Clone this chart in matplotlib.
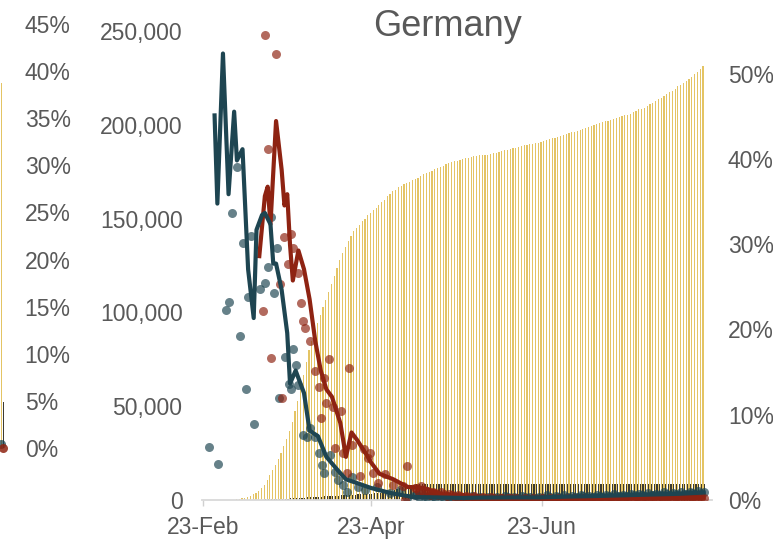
import matplotlib
matplotlib.use('Agg')
import matplotlib.pyplot as plt
import numpy as np
from matplotlib.ticker import FuncFormatter

plt.rcParams['font.family'] = ['Liberation Sans', 'DejaVu Sans']

# ---- data (days counted from 23-Feb) ----
# share of population, right axis (%), one bar per day
yellow_pct = [
    0.0, 0.0, 0.0, 0.0, 0.0, 0.0, 0.0, 0.01, 0.01, 0.02,
    0.03, 0.05, 0.08, 0.12, 0.18, 0.25, 0.35, 0.5, 0.65, 0.85,
    1.1, 1.4, 1.8, 2.3, 2.9, 3.5, 4.1, 4.8, 5.5, 6.3,
    7.2, 8.1, 9.2, 10.4, 11.6, 13.0, 14.7, 16.2, 17.6, 18.7,
    19.8, 20.8, 21.7, 22.6, 23.5, 24.4, 25.3, 26.3, 27.2, 28.1,
    29.0, 29.7, 30.4, 31.0, 31.5, 31.9, 32.3, 32.7, 33.0, 33.4,
    33.7, 34.0, 34.3, 34.6, 34.9, 35.2, 35.6, 35.9, 36.2, 36.4,
    36.7, 36.8, 37.0, 37.2, 37.3, 37.5, 37.6, 37.8, 38.0, 38.2,
    38.4, 38.5, 38.6, 38.8, 38.9, 39.0, 39.2, 39.4, 39.5, 39.6,
    39.7, 39.8, 39.9, 40.0, 40.1, 40.1, 40.2, 40.3, 40.3, 40.4,
    40.4, 40.5, 40.5, 40.6, 40.7, 40.7, 40.8, 40.9, 41.0, 41.1,
    41.2, 41.3, 41.3, 41.4, 41.5, 41.6, 41.6, 41.7, 41.8, 41.9,
    41.9, 42.0, 42.1, 42.2, 42.3, 42.4, 42.5, 42.6, 42.7, 42.8,
    42.9, 43.0, 43.1, 43.2, 43.3, 43.4, 43.5, 43.6, 43.8, 43.9,
    44.0, 44.1, 44.2, 44.3, 44.4, 44.5, 44.6, 44.7, 44.8, 44.9,
    45.0, 45.1, 45.2, 45.3, 45.5, 45.6, 45.8, 45.9, 46.0, 46.2,
    46.4, 46.6, 46.8, 47.0, 47.2, 47.4, 47.6, 47.8, 48.0, 48.2,
    48.5, 48.7, 48.9, 49.1, 49.4, 49.6, 49.9, 50.2, 50.5, 50.9,
]
dark_pct = [
    0.0, 0.0, 0.0, 0.0, 0.0, 0.0, 0.0, 0.0, 0.0, 0.0,
    0.0, 0.0, 0.0, 0.0, 0.01, 0.01, 0.02, 0.02, 0.03, 0.03,
    0.04, 0.05, 0.06, 0.07, 0.08, 0.09, 0.1, 0.12, 0.13, 0.15,
    0.17, 0.18, 0.2, 0.22, 0.24, 0.26, 0.28, 0.3, 0.32, 0.34,
    0.36, 0.38, 0.4, 0.42, 0.44, 0.46, 0.48, 0.5, 0.52, 0.54,
    0.56, 0.58, 0.6, 0.62, 0.64, 0.66, 0.68, 0.7, 0.72, 0.74,
    0.76, 0.78, 0.8, 0.85, 0.9, 0.95, 1.0, 1.1, 1.2, 1.3,
    1.4, 1.5, 1.6, 1.7, 1.75, 1.8, 1.82, 1.84, 1.86, 1.88,
    1.88, 1.89, 1.89, 1.9, 1.9, 1.9, 1.9, 1.9, 1.9, 1.9,
    1.9, 1.9, 1.9, 1.9, 1.9, 1.9, 1.9, 1.9, 1.9, 1.9,
    1.9, 1.9, 1.9, 1.9, 1.9, 1.9, 1.9, 1.9, 1.9, 1.9,
    1.9, 1.9, 1.9, 1.9, 1.9, 1.9, 1.9, 1.9, 1.9, 1.9,
    1.9, 1.9, 1.9, 1.9, 1.9, 1.9, 1.9, 1.9, 1.9, 1.9,
    1.9, 1.9, 1.9, 1.9, 1.9, 1.9, 1.9, 1.9, 1.9, 1.9,
    1.9, 1.9, 1.9, 1.9, 1.9, 1.9, 1.9, 1.9, 1.9, 1.9,
    1.9, 1.9, 1.9, 1.9, 1.9, 1.9, 1.9, 1.9, 1.9, 1.9,
    1.9, 1.9, 1.9, 1.9, 1.9, 1.9, 1.9, 1.9, 1.9, 1.9,
    1.9, 1.9, 1.9, 1.9, 1.9, 1.9, 1.9, 1.9, 1.9, 1.9,
]

# smoothed lines, left axis (thousands)
teal_line_day = [4, 5, 7, 9, 11, 12, 14, 16, 18, 19, 21, 22, 24, 25, 26, 28, 30, 31,
                 33, 36, 38, 41, 44, 48, 51, 55, 60, 67, 75, 93, 100, 110, 120, 130,
                 140, 150, 160, 170, 179]
teal_line_val = [205, 158, 238, 163, 207, 181, 187, 123, 97, 144, 152, 153, 147, 126,
                 126, 112, 89, 62, 69, 57, 37, 34, 23, 16, 11, 9, 6.4, 3.7, 1.6, 1.1,
                 1.3, 1.4, 1.4, 1.8, 2.1, 2.5, 2.9, 3.3, 4.0]
red_line_day = [20, 22, 23, 24, 26, 28, 29, 30, 31, 32, 34, 36, 38, 40, 42, 44, 46, 49,
                51, 53, 55, 58, 60, 63, 68, 73, 79, 86, 93, 100, 110, 120, 130, 140,
                150, 160, 170, 179]
red_line_val = [130, 162, 167, 147, 202, 176, 157, 163, 136, 117, 133, 123, 107, 85,
                69, 59, 55, 41, 23, 36, 32, 25, 20, 14, 11, 7, 6.4, 2.7, 1.1, 1.0, 0.8,
                0.6, 0.6, 0.7, 0.8, 0.9, 1.0, 1.2]

# daily points, early part (day, thousands)
teal_dot_day = [2.1, 5.1, 8.1, 9.0, 10.3, 12.0, 13.2, 14.2, 15.3, 16.0, 17.1, 18.2,
                20.4, 22.1, 23.1, 24.3, 25.1, 26.3, 27.1, 29.3, 30.5, 31.3, 32.0,
                33.2, 34.0, 35.5, 37.0, 38.0, 40.0, 41.2, 42.4, 43.0, 45.4, 47.1,
                48.3, 50.1, 51.3, 53.1, 55.5, 57.9, 62.0, 66.8, 70.4, 72.8, 75.7]
teal_dot_val = [28.4, 19.2, 101.3, 105.7, 152.8, 177.3, 87.4, 136.8, 59.2, 108.4,
                140.7, 40.4, 112.3, 115.8, 124.0, 150.7, 110.2, 134.2, 54.2, 76.4,
                61.8, 59.0, 80.3, 72.0, 61.3, 34.6, 33.7, 38.2, 33.7, 24.9, 18.7,
                14.6, 24.0, 15.1, 10.7, 8.0, 4.4, 12.4, 7.1, 5.3, 7.1, 3.6, 5.3,
                0.9, 2.7]
red_dot_day = [21.2, 22.1, 23.1, 24.3, 26.1, 27.3, 28.1, 29.0, 30.3, 31.3, 32.0,
               33.8, 35.0, 35.6, 36.4, 38.0, 40.0, 41.2, 42.1, 43.0, 43.9, 45.1,
               46.3, 47.1, 49.2, 50.1, 51.3, 52.1, 53.1, 56.1, 57.3, 59.0, 59.6,
               60.8, 62.6, 65.0, 68.0, 71.5, 72.1, 73.0, 75.7]
red_dot_val = [100.9, 247.8, 187.1, 75.5, 237.6, 115.1, 54.2, 140.3, 125.6, 141.6,
               134.2, 120.8, 104.8, 95.6, 91.5, 84.9, 68.9, 60.1, 43.9, 64.9, 51.5,
               75.0, 49.4, 27.9, 47.6, 25.2, 14.2, 70.2, 29.3, 12.8, 27.0, 22.2,
               25.2, 14.6, 9.2, 13.9, 8.0, 7.6, 0.0, 18.3, 6.2]

# daily points, tail from day 76 (thousands)
tail_start = 76
teal_tail = [2.7, 1.6, 3.1, 2.2, 1.4, 2.5, 1.9, 1.2, 2.6, 2.0,
             1.1, 2.2, 1.6, 1.0, 2.0, 1.5, 0.9, 1.8, 1.3, 0.8,
             1.9, 1.4, 0.8, 1.6, 1.2, 0.7, 1.7, 1.3, 0.8, 1.5,
             1.2, 0.9, 1.9, 1.5, 1.0, 1.6, 1.1, 0.8, 2.1, 1.4,
             1.0, 1.7, 1.3, 0.9, 1.6, 1.2, 1.0, 2.4, 1.7, 1.2,
             1.9, 1.5, 1.1, 2.6, 1.8, 1.3, 2.2, 1.7, 1.4, 2.5,
             1.9, 1.5, 2.3, 1.8, 1.6, 2.8, 2.1, 1.7, 2.6, 2.0,
             1.8, 3.0, 2.3, 1.9, 2.8, 2.2, 2.0, 3.3, 2.5, 2.1,
             3.1, 2.4, 2.2, 3.6, 2.8, 2.4, 3.4, 2.7, 2.5, 4.0,
             3.0, 2.7, 3.8, 3.0, 2.8, 4.4, 3.4, 3.0, 4.2, 3.5,
             3.2, 4.8, 3.9, 4.5]
red_tail = [6.2, 4.4, 7.5, 3.8, 5.0, 2.9, 4.3, 3.5, 2.4, 4.0,
            3.0, 2.0, 3.2, 2.6, 1.6, 2.8, 2.0, 1.4, 2.2, 1.5,
            1.1, 1.9, 1.3, 0.9, 1.6, 1.1, 0.7, 1.4, 1.0, 0.6,
            1.2, 0.9, 0.5, 1.1, 0.8, 0.5, 1.0, 0.7, 0.4, 0.9,
            0.7, 0.4, 0.9, 0.6, 0.4, 0.8, 0.6, 0.3, 0.9, 0.6,
            0.4, 0.8, 0.6, 0.3, 0.9, 0.6, 0.4, 0.8, 0.6, 0.4,
            0.9, 0.6, 0.4, 0.8, 0.7, 0.4, 0.9, 0.6, 0.5, 1.0,
            0.7, 0.5, 1.0, 0.7, 0.5, 1.1, 0.8, 0.5, 1.1, 0.8,
            0.6, 1.2, 0.8, 0.6, 1.2, 0.9, 0.6, 1.3, 0.9, 0.7,
            1.3, 1.0, 0.7, 1.4, 1.0, 0.8, 1.4, 1.1, 0.8, 1.5,
            1.1, 0.9, 1.5, 1.2]

tick_days = [0, 60, 121]
tick_labels = ['23-Feb', '23-Apr', '23-Jun']

# clipped neighbouring chart at the far left (its right edge only)
left_yellow = 0.387
left_dark = 0.049
left_dot_teal = 0.004
left_dot_red = 0.0
left_ticks = [0, .05, .10, .15, .20, .25, .30, .35, .40, .45]

GREY = '#595959'
YELLOW = '#E4C464'
DARK = '#3B3B33'
TEAL = '#1E4551'
RED = '#8E2312'
FS = 16.5
DOT = 42

W, H = 773, 544
fig = plt.figure(figsize=(W / 100, H / 100), dpi=100)


def box(l, t, r, b):
    return [l / W, 1 - b / H, (r - l) / W, (b - t) / H]


# ---- left clipped chart ----
ax0 = fig.add_axes(box(0, 24, 8, 448))
ax0.set_xlim(0, 8)
ax0.set_ylim(0, 0.45)
ax0.bar([1.9], [left_yellow], width=1.0, color=YELLOW, zorder=1)
ax0.bar([3.1], [left_dark], width=0.9, color=DARK, zorder=1)
ax0.scatter([1.2], [left_dot_teal], s=DOT, color=TEAL, alpha=0.75, lw=0, zorder=3, clip_on=False)
ax0.scatter([2.8], [left_dot_red], s=DOT, color=RED, alpha=0.85, lw=0, zorder=3, clip_on=False)
ax0.set_yticks(left_ticks)
ax0.yaxis.tick_right()
ax0.yaxis.set_major_formatter(FuncFormatter(lambda v, p: f'{v * 100:.0f}%'))
ax0.tick_params(axis='y', length=0, pad=12, labelsize=FS, labelcolor=GREY)
ax0.set_xticks([])
for s in ax0.spines.values():
    s.set_visible(False)

# ---- main chart ----
pos = box(202, 31, 712, 500)
axb = fig.add_axes(pos)
axl = fig.add_axes(pos, sharex=axb)
axl.patch.set_alpha(0)

days = np.arange(len(yellow_pct))
axb.bar(days - 0.2, np.array(yellow_pct) / 100, width=0.42, color=YELLOW, lw=0)
axb.bar(days + 0.3, np.array(dark_pct) / 100, width=0.42, color=DARK, lw=0)
axb.set_ylim(0, 0.55)
axb.set_yticks([0, .1, .2, .3, .4, .5])
axb.yaxis.tick_right()
axb.yaxis.set_major_formatter(FuncFormatter(lambda v, p: f'{v * 100:.0f}%'))
axb.tick_params(axis='y', length=0, pad=11.5, labelsize=FS, labelcolor=GREY)

axb.set_xlim(-0.5, 182)
axb.set_xticks(tick_days)
axb.set_xticklabels(tick_labels)
axb.tick_params(axis='x', length=4.5, width=1, color='#D0D0D0', pad=7,
                labelsize=FS, labelcolor=GREY)
for k, s in axb.spines.items():
    s.set_visible(k == 'bottom')
axb.spines['bottom'].set_color('#D9D9D9')
axb.spines['bottom'].set_linewidth(1.3)

tail_days = np.arange(tail_start, tail_start + len(teal_tail))
axl.scatter(teal_dot_day, np.array(teal_dot_val) * 1000, s=DOT, color=TEAL,
            alpha=0.68, lw=0, zorder=2)
axl.scatter(tail_days, np.array(teal_tail) * 1000, s=DOT, color=TEAL,
            alpha=0.68, lw=0, zorder=2)
axl.scatter(red_dot_day, np.array(red_dot_val) * 1000, s=DOT, color=RED,
            alpha=0.68, lw=0, zorder=2)
axl.scatter(tail_days, np.array(red_tail) * 1000, s=DOT, color=RED,
            alpha=0.68, lw=0, zorder=2)
axl.plot(red_line_day, np.array(red_line_val) * 1000, color=RED, lw=3.0,
         solid_joinstyle='round', zorder=3)
axl.plot(teal_line_day, np.array(teal_line_val) * 1000, color=TEAL, lw=3.0,
         solid_joinstyle='round', zorder=4)
axl.set_ylim(0, 250000)
axl.set_yticks(range(0, 250001, 50000))
axl.yaxis.set_major_formatter(FuncFormatter(lambda v, p: f'{int(v):,}'))
axl.tick_params(axis='y', length=0, pad=14, labelsize=FS, labelcolor=GREY)
axl.tick_params(axis='x', bottom=False, labelbottom=False)
for s in axl.spines.values():
    s.set_visible(False)

fig.text(448 / W, 1 - 26 / H, 'Germany', ha='center', va='center',
         fontsize=26, color=GREY)

fig.savefig('out.png', dpi=100)
